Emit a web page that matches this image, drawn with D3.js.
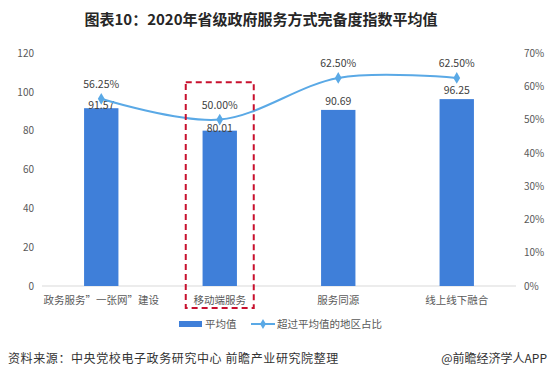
<!DOCTYPE html>
<html>
<head>
<meta charset="utf-8">
<script src="https://cdn.jsdelivr.net/npm/d3@7"></script>
<style>
  body { margin: 0; background: #fff; }
  text { font-family: "Noto Sans CJK SC", "Noto Sans", sans-serif; }
</style>
</head>
<body>
<script>
  // data
  var categories = ["政务服务”一张网”建设", "移动端服务", "服务同源", "线上线下融合"];
  var avgValues = [91.57, 80.01, 90.69, 96.25];
  var shareValues = [56.25, 50.00, 62.50, 62.50];
  var leftTicks = [0, 20, 40, 60, 80, 100, 120];
  var rightTicks = [0, 10, 20, 30, 40, 50, 60, 70];

  var width = 550, height = 381;
  var plot = { left: 42, right: 516, top: 53, bottom: 286 };
  var barColor = "#3f7fd9", lineColor = "#5aa9e6", textColor = "#595959";

  var svg = d3.select("body").append("svg")
    .attr("width", width).attr("height", height);

  // title
  svg.append("text")
    .attr("x", 261).attr("y", 25)
    .attr("text-anchor", "middle")
    .attr("font-size", 15).attr("font-weight", "bold")
    .attr("fill", "#262626")
    .text("图表10：2020年省级政府服务方式完备度指数平均值");

  /***** Scales *****/
  var x = d3.scalePoint().domain(categories).range([plot.left, plot.right]).padding(0.5);
  var barW = x.step() * 0.29;
  var yL = d3.scaleLinear().domain([0, 120]).range([plot.bottom, plot.top]);
  var yR = d3.scaleLinear().domain([0, 70]).range([plot.bottom, plot.top]);

  // left axis labels
  svg.append("g")
    .attr("transform", "translate(" + (plot.left - 8) + ",0)")
    .call(d3.axisLeft(yL).tickValues(leftTicks).tickSize(0).tickPadding(0))
    .call(function(g) {
      g.select(".domain").remove();
      g.selectAll("text").attr("font-size", 10).attr("fill", textColor);
    });

  // right axis labels
  svg.append("g")
    .attr("transform", "translate(" + (plot.right + 8) + ",0)")
    .call(d3.axisRight(yR).tickValues(rightTicks).tickSize(0).tickPadding(0)
      .tickFormat(function(d) { return d + "%"; }))
    .call(function(g) {
      g.select(".domain").remove();
      g.selectAll("text").attr("font-size", 10).attr("fill", textColor);
    });

  // baseline
  svg.append("line")
    .attr("x1", plot.left).attr("x2", plot.right)
    .attr("y1", plot.bottom).attr("y2", plot.bottom)
    .attr("stroke", "#d9d9d9");

  // bars
  svg.selectAll("rect.bar").data(avgValues).enter().append("rect")
    .attr("class", "bar")
    .attr("x", function(d, i) { return x(categories[i]) - barW / 2; })
    .attr("y", function(d) { return yL(d); })
    .attr("width", barW)
    .attr("height", function(d) { return plot.bottom - yL(d); })
    .attr("fill", barColor);

  svg.selectAll("text.barlab").data(avgValues).enter().append("text")
    .attr("class", "barlab")
    .attr("x", function(d, i) { return x(categories[i]); })
    .attr("y", function(d, i) { return yL(d) - (i == 0 || i == 1 ? -1 : 5); })
    .attr("text-anchor", "middle")
    .attr("font-size", 10.5).attr("fill", "#404040")
    .text(function(d) { return d.toFixed(2); });

  // line
  var line = d3.line()
    .x(function(d, i) { return x(categories[i]); })
    .y(function(d) { return yR(d); })
    .curve(d3.curveCatmullRom.alpha(0));

  svg.append("path").datum(shareValues)
    .attr("d", line)
    .attr("fill", "none")
    .attr("stroke", lineColor).attr("stroke-width", 2);

  svg.selectAll("path.pt").data(shareValues).enter().append("path")
    .attr("class", "pt")
    .attr("d", d3.symbol(d3.symbolDiamond, 40))
    .attr("transform", function(d, i) { return "translate(" + x(categories[i]) + "," + yR(d) + ")"; })
    .attr("fill", lineColor);

  svg.selectAll("text.ptlab").data(shareValues).enter().append("text")
    .attr("class", "ptlab")
    .attr("x", function(d, i) { return x(categories[i]); })
    .attr("y", function(d) { return yR(d) - 11; })
    .attr("text-anchor", "middle")
    .attr("font-size", 10.5).attr("fill", "#404040")
    .text(function(d) { return d.toFixed(2) + "%"; });

  // category labels
  svg.selectAll("text.cat").data(categories).enter().append("text")
    .attr("class", "cat")
    .attr("x", function(d) { return x(d); })
    .attr("y", plot.bottom + 18)
    .attr("text-anchor", "middle")
    .attr("font-size", 10.5).attr("fill", textColor)
    .text(function(d) { return d; });

  // red dashed highlight box around 移动端服务
  var cx = x(categories[1]);
  svg.append("rect")
    .attr("x", cx - 34).attr("y", yL(105))
    .attr("width", 68).attr("height", plot.bottom + 22 - yL(105))
    .attr("fill", "none")
    .attr("stroke", "#c8102e").attr("stroke-width", 2)
    .attr("stroke-dasharray", "6,4");

  // legend
  var lg = svg.append("g").attr("transform", "translate(0,324)");
  lg.append("rect").attr("x", 179).attr("y", -3).attr("width", 23).attr("height", 6).attr("fill", barColor);
  lg.append("text").attr("x", 205).attr("y", 4).attr("font-size", 10.5).attr("fill", textColor).text("平均值");
  lg.append("line").attr("x1", 251).attr("x2", 275).attr("y1", 0).attr("y2", 0)
    .attr("stroke", lineColor).attr("stroke-width", 2);
  lg.append("path").attr("d", d3.symbol(d3.symbolDiamond, 30))
    .attr("transform", "translate(263,0)").attr("fill", lineColor);
  lg.append("text").attr("x", 277).attr("y", 4).attr("font-size", 10.5).attr("fill", textColor).text("超过平均值的地区占比");

  // footer
  svg.append("text")
    .attr("x", 8).attr("y", 363)
    .attr("font-size", 12).attr("fill", "#333")
    .attr("letter-spacing", 0.6)
    .text("资料来源：中央党校电子政务研究中心 前瞻产业研究院整理");
  svg.append("text")
    .attr("x", 547).attr("y", 363)
    .attr("text-anchor", "end")
    .attr("font-size", 12).attr("fill", "#333")
    .text("@前瞻经济学人APP");
</script>
</body>
</html>
